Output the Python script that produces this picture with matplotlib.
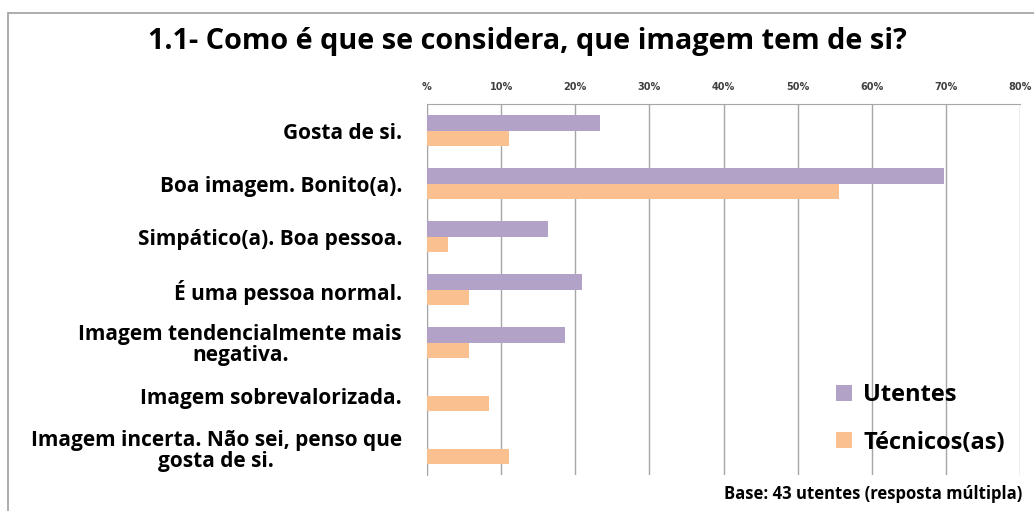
"""
Bar chart: 1.1- Como é que se considera, que imagem tem de si?
"""
# %%
import numpy as np
import matplotlib.pyplot as plt
from matplotlib.patches import Rectangle
from matplotlib.ticker import FuncFormatter

plt.rcParams['font.family'] = ['Open Sans', 'DejaVu Sans']

# Data (percent)
categories = ['Gosta de si.',
              'Boa imagem. Bonito(a).',
              'Simpático(a). Boa pessoa.',
              'É uma pessoa normal.',
              'Imagem tendencialmente mais\nnegativa.',
              'Imagem sobrevalorizada.',
              'Imagem incerta. Não sei, penso que\ngosta de si.']
utentes = [23.3, 69.8, 16.3, 20.9, 18.6, 0, 0]
tecnicos = [11.1, 55.6, 2.8, 5.6, 5.6, 8.3, 11.1]
series_names = ['Utentes', 'Técnicos(as)']
ticks = [0, 10, 20, 30, 40, 50, 60, 70, 80]

c_ut = '#b3a2c7'
c_tec = '#fac090'
grid_c = '#a6a6a6'

# %%
fig = plt.figure(figsize=(10.34, 5.11), dpi=100)

# outer chart border
fig.patches.append(Rectangle((8/1034, -0.1), 1.2, 1 - 13/511 + 0.1,
                             transform=fig.transFigure, fill=False,
                             edgecolor='#a0a0a0', linewidth=1.2))

ax = fig.add_axes([427/1034, 1 - 475/511, 593/1034, 371/511])

y = np.arange(len(categories))
h = 0.29
ax.barh(y - h/2, utentes, height=h, color=c_ut, label=series_names[0],
        zorder=3)
ax.barh(y + h/2, tecnicos, height=h, color=c_tec, label=series_names[1],
        zorder=3)

ax.set_xlim(0, 80)
ax.set_ylim(len(categories) - 0.5, -0.5)
ax.set_xticks(ticks)
ax.xaxis.set_major_formatter(
    FuncFormatter(lambda v, p: '%' if v == 0 else '%d%%' % v))
ax.xaxis.tick_top()
ax.tick_params(axis='x', length=0, pad=9, labelsize=7, colors='#404040')
for lbl in ax.get_xticklabels():
    lbl.set_fontweight('bold')
    lbl.set_family('DejaVu Sans')
ax.set_yticks(y)
ax.set_yticklabels(categories, fontsize=15, fontweight='bold',
                   ha='right', multialignment='center', linespacing=1.0)
ax.tick_params(axis='y', length=0, pad=18)
ax.grid(axis='x', color=grid_c, linewidth=1, zorder=0)
for s in ['right', 'bottom']:
    ax.spines[s].set_visible(False)
for s in ['top', 'left']:
    ax.spines[s].set_color(grid_c)

leg = ax.legend(loc='lower left', bbox_to_anchor=(0.69, 0.055),
                frameon=False, prop={'size': 17, 'weight': 'bold'},
                handlelength=0.65, handleheight=0.65, labelspacing=1.0,
                handletextpad=0.5, borderpad=0, borderaxespad=0)

fig.text(527/1034, 1 - 41/511, '1.1- Como é que se considera, que imagem tem de si?',
         ha='center', va='center', fontsize=20.8, fontweight='bold')
fig.text(1022/1034, 1 - 494/511, 'Base: 43 utentes (resposta múltipla)',
         ha='right', va='center', fontsize=12, fontweight='bold')

plt.savefig('out.png', dpi=100)
